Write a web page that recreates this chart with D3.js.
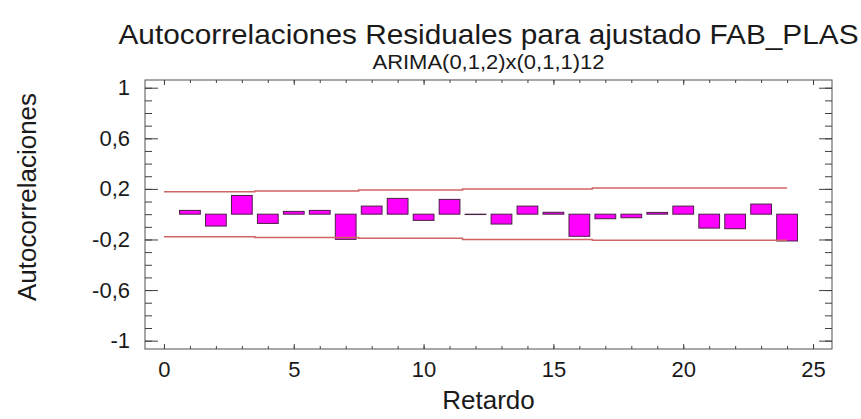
<!DOCTYPE html>
<html>
<head>
<meta charset="utf-8">
<script src="https://cdn.jsdelivr.net/npm/d3@7"></script>
<style>
  body { margin: 0; background: #fff; }
  svg { display: block; font-family: "Liberation Sans", Arial, sans-serif; }
  .tick text { fill: #1a1a1a; }
  .tick line { stroke: #404040; }
</style>
</head>
<body>
<div id="chart"></div>
<script>
// lags and residual autocorrelations
var lags = [1, 2, 3, 4, 5, 6, 7, 8, 9, 10, 11, 12, 13, 14, 15, 16, 17, 18, 19, 20, 21, 22, 23, 24];
var acf = [0.030, -0.094, 0.148, -0.073, 0.022, 0.030, -0.199, 0.064, 0.125, -0.049, 0.117, -0.003,
           -0.078, 0.064, 0.015, -0.175, -0.036, -0.028, 0.014, 0.064, -0.110, -0.115, 0.080, -0.212];

// probability limits (step line) from lag 0 to 24
var limitLags = [0, 1, 2, 3, 4, 5, 6, 7, 8, 9, 10, 11, 12, 13, 14, 15, 16, 17, 18, 19, 20, 21, 22, 23, 24];
var limits = [0.178, 0.178, 0.178, 0.178, 0.184, 0.184, 0.184, 0.184, 0.191, 0.191, 0.191, 0.191,
              0.200, 0.200, 0.200, 0.200, 0.200, 0.207, 0.207, 0.207, 0.207, 0.207, 0.207, 0.207, 0.207];

var xMajorTicks = [0, 5, 10, 15, 20, 25];
var xMinorTicks = [0, 1, 2, 3, 4, 5, 6, 7, 8, 9, 10, 11, 12, 13, 14, 15, 16, 17, 18, 19, 20, 21, 22, 23, 24, 25];
var yMajorTicks = [-1, -0.6, -0.2, 0.2, 0.6, 1];
var yMinorTicks = [-1, -0.9, -0.8, -0.7, -0.6, -0.5, -0.4, -0.3, -0.2, -0.1, 0, 0.1, 0.2, 0.3, 0.4, 0.5, 0.6, 0.7, 0.8, 0.9, 1];

var titleText = 'Autocorrelaciones Residuales para ajustado FAB_PLAS';
var subtitleText = 'ARIMA(0,1,2)x(0,1,1)12';
var xLabel = 'Retardo';
var yLabel = 'Autocorrelaciones';

var svgWidth = 861;
var svgHeight = 419;

// plot frame in pixels
var frame = { left: 145, right: 832, top: 80, bottom: 349 };

var svg = d3.select('#chart')
    .append('svg')
    .attr('width', svgWidth)
    .attr('height', svgHeight);

var x = d3.scaleLinear()
    .domain([-0.73, 25.73])
    .range([frame.left, frame.right]);

var y = d3.scaleLinear()
    .domain([-1.066, 1.061])
    .range([frame.bottom, frame.top]);

var fmt = function(d) { return String(d).replace('.', ','); };

// frame
svg.append('rect')
    .attr('x', frame.left)
    .attr('y', frame.top)
    .attr('width', frame.right - frame.left)
    .attr('height', frame.bottom - frame.top)
    .attr('fill', 'none')
    .attr('stroke', '#505050')
    .attr('stroke-width', 1);

// axes (ticks point inward)
function addAxis(axis, tx, ty) {
    var g = svg.append('g')
        .attr('transform', 'translate(' + tx + ',' + ty + ')')
        .call(axis);
    g.select('.domain').remove();
    return g;
}

addAxis(d3.axisLeft(y).tickValues(yMinorTicks).tickSize(-7).tickFormat(''), frame.left, 0);
addAxis(d3.axisLeft(y).tickValues(yMajorTicks).tickSize(-13).tickPadding(15).tickFormat(fmt), frame.left, 0)
    .selectAll('text').attr('font-size', '22px');
addAxis(d3.axisRight(y).tickValues(yMinorTicks).tickSize(-7).tickFormat(''), frame.right, 0);
addAxis(d3.axisRight(y).tickValues(yMajorTicks).tickSize(-13).tickFormat(''), frame.right, 0);

addAxis(d3.axisBottom(x).tickValues(xMinorTicks).tickSize(-3).tickFormat(''), 0, frame.bottom);
addAxis(d3.axisBottom(x).tickValues(xMajorTicks).tickSize(-5).tickPadding(12).tickFormat(fmt), 0, frame.bottom)
    .selectAll('text').attr('font-size', '22px');
addAxis(d3.axisTop(x).tickValues(xMinorTicks).tickSize(-3).tickFormat(''), 0, frame.top);
addAxis(d3.axisTop(x).tickValues(xMajorTicks).tickSize(-5).tickFormat(''), 0, frame.top);

// bars
var barWidth = x(0.8) - x(0);
svg.append('g')
    .selectAll('rect')
    .data(lags)
    .enter()
    .append('rect')
    .attr('x', function(d) { return x(d) - barWidth / 2; })
    .attr('y', function(d, i) { return y(Math.max(0, acf[i])); })
    .attr('width', barWidth)
    .attr('height', function(d, i) { return Math.abs(y(acf[i]) - y(0)); })
    .attr('fill', '#ff00ff')
    .attr('stroke', '#4a1f45')
    .attr('stroke-width', 1);

// limit lines
var upper = d3.line()
    .x(function(d) { return x(d); })
    .y(function(d, i) { return y(limits[i]); })
    .curve(d3.curveStep);
var lower = d3.line()
    .x(function(d) { return x(d); })
    .y(function(d, i) { return y(-limits[i]); })
    .curve(d3.curveStep);

svg.append('path')
    .attr('d', upper(limitLags))
    .attr('fill', 'none')
    .attr('stroke', '#d06464')
    .attr('stroke-width', 1.5);
svg.append('path')
    .attr('d', lower(limitLags))
    .attr('fill', 'none')
    .attr('stroke', '#d06464')
    .attr('stroke-width', 1.5);

// titles
var cx = (frame.left + frame.right) / 2;
svg.append('text')
    .attr('x', cx)
    .attr('y', 44)
    .attr('text-anchor', 'middle')
    .attr('font-size', '28px')
    .attr('textLength', 740)
    .attr('lengthAdjust', 'spacingAndGlyphs')
    .attr('fill', '#1a1a1a')
    .text(titleText);

svg.append('text')
    .attr('x', cx)
    .attr('y', 69)
    .attr('text-anchor', 'middle')
    .attr('font-size', '20px')
    .attr('textLength', 232)
    .attr('lengthAdjust', 'spacingAndGlyphs')
    .attr('fill', '#1a1a1a')
    .text(subtitleText);

svg.append('text')
    .attr('x', cx)
    .attr('y', 409)
    .attr('text-anchor', 'middle')
    .attr('font-size', '26px')
    .attr('fill', '#1a1a1a')
    .text(xLabel);

svg.append('text')
    .attr('transform', 'translate(36,197) rotate(-90)')
    .attr('text-anchor', 'middle')
    .attr('font-size', '26px')
    .attr('fill', '#1a1a1a')
    .text(yLabel);
</script>
</body>
</html>
